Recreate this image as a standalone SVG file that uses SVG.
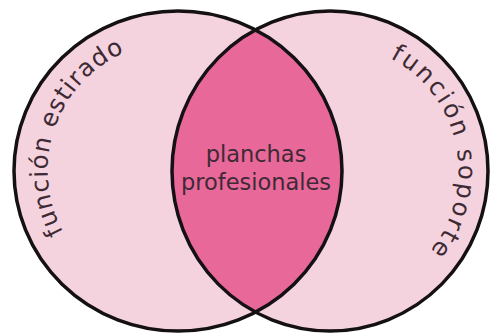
<svg xmlns="http://www.w3.org/2000/svg" width="490" height="334" viewBox="0 0 490 334">
  <style>
    .set { fill: #f5d3de; }
    .ring { fill: none; stroke: #141014; stroke-width: 3.5; }
    .lens { fill: #e9689a; }
    .lbl { font-family: "DejaVu Sans", "Liberation Sans", sans-serif; font-size: 24.5px; fill: #3d2a34; }
    .mid { font-family: "DejaVu Sans", "Liberation Sans", sans-serif; font-size: 22.5px; fill: #3d2a34; text-anchor: middle; }
  </style>
  <defs>
    <clipPath id="clipLeft">
      <ellipse cx="178" cy="171" rx="164" ry="160"/>
    </clipPath>
    <path id="arcLeft" d="M63.2,232 A129,129 0 0 1 125.1,52.2"/>
    <path id="arcRight" d="M390.1,58 A127,127 0 0 1 428.6,252.6"/>
  </defs>
  <rect width="490" height="334" fill="#ffffff"/>
  <g id="left-set">
    <ellipse class="set" cx="178" cy="171" rx="164" ry="160"/>
  </g>
  <g id="right-set">
    <ellipse class="set" cx="330" cy="171" rx="158" ry="160"/>
  </g>
  <g id="intersection">
    <ellipse class="lens" cx="330" cy="171" rx="158" ry="160" clip-path="url(#clipLeft)"/>
  </g>
  <g id="outlines">
    <ellipse class="ring" cx="178" cy="171" rx="164" ry="160"/>
    <ellipse class="ring" cx="330" cy="171" rx="158" ry="160"/>
  </g>
  <g id="labels">
    <text class="lbl"><textPath href="#arcLeft" textLength="213" lengthAdjust="spacing">función estirado</textPath></text>
    <text class="lbl"><textPath href="#arcRight" textLength="225" lengthAdjust="spacing">función soporte</textPath></text>
    <text class="mid" x="256" y="162">planchas</text>
    <text class="mid" x="256" y="190">profesionales</text>
  </g>
</svg>
